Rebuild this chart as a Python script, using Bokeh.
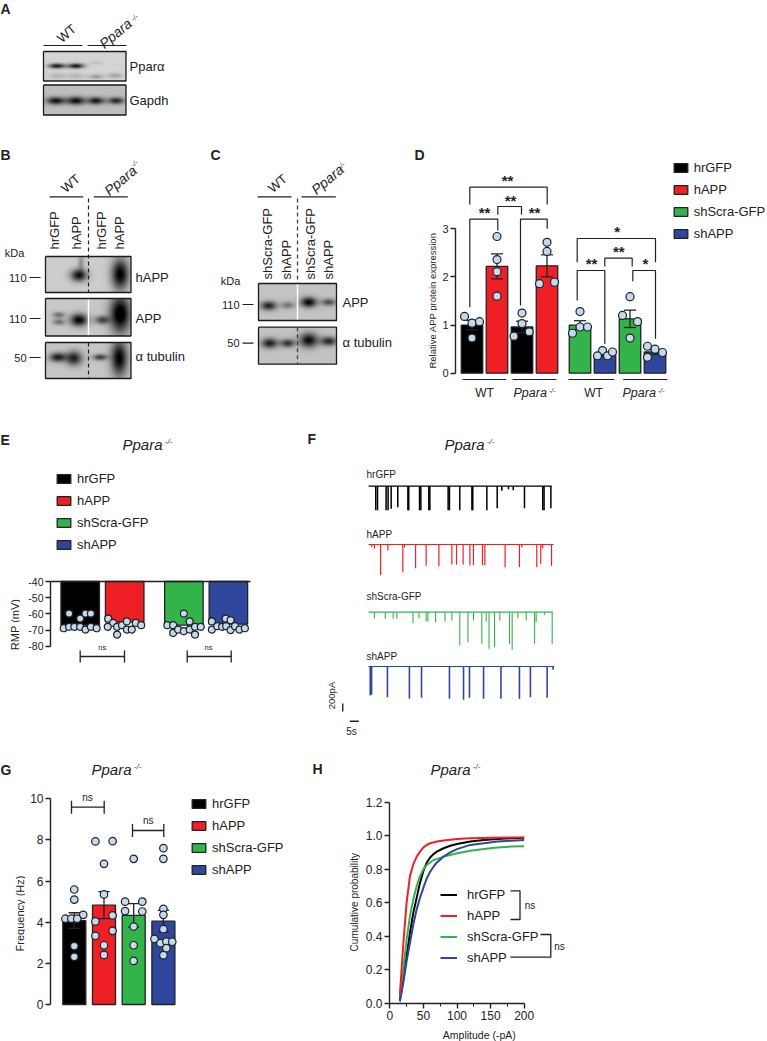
import numpy as np
from bokeh.plotting import figure
from bokeh.embed import file_html
from bokeh.resources import INLINE
from bokeh.layouts import column, row
from bokeh.models import (Label, Range1d, LinearAxis, FixedTicker, Legend, LegendItem,
                          LinearColorMapper)

FONT = "Liberation Sans"
INK = "#222222"
COLORS = ["#000000", "#ee2025", "#33b44a", "#2e479c"]
NAMES = ["hrGFP", "hAPP", "shScra-GFP", "shAPP"]
DOT = "#c2d9ee"

# ---------- panel D values
d_pos = [1, 2, 3, 4, 5.32, 6.32, 7.32, 8.32]
d_vals = [1.0, 2.22, 0.96, 2.23, 1.0, 0.38, 1.13, 0.44]
d_err = [0.1, 0.26, 0.12, 0.23, 0.09, 0.03, 0.18, 0.05]
d_color = [0, 1, 0, 1, 2, 3, 2, 3]
d_pts_y = [[1.18, 1.04, 1.07, 0.73], [2.84, 2.36, 2.11, 1.60], [1.25, 1.03, 0.77, 0.86], [2.72, 2.53, 1.86, 1.89],
           [1.28, 0.96, 0.83, 0.96], [0.47, 0.36, 0.36, 0.44], [1.59, 1.20, 1.07, 0.73], [0.56, 0.50, 0.43, 0.33]]
d_pts_dx = [[-0.3, 0, 0.3, 0], [0, 0, 0, 0], [0, 0, -0.32, 0.29], [0, 0, -0.3, 0.3],
            [0, 0, -0.3, 0.3], [-0.1, -0.3, 0.1, 0.3], [0, -0.3, 0.3, 0], [-0.3, 0, 0.3, -0.3]]

# ---------- panel E values
e_pos = [1, 2, 3.33, 4.33]
e_vals = [-67, -65, -67, -66.4]
e_pts_y = [[-59.8, -59.8, -59.8, -62.9, -68.9, -68, -68, -68, -69.7, -68, -68.9],
           [-63, -65.6, -68, -68, -72.8, -67, -64.7, -69.7, -69.7, -65.6, -67],
           [-59.8, -64.7, -67, -67, -71.8, -69.7, -70.7, -69.7, -68, -72.8, -68],
           [-64.7, -69.7, -67.6, -68, -62.9, -63.9, -67.6, -70, -67.6, -69.7, -68.9]]
e_pts_dx = [[-0.25, 0.12, 0.24, 0, -0.37, -0.25, -0.13, 0, 0.12, 0.24, 0.37],
            [-0.37, -0.26, -0.38, -0.17, -0.17, -0.06, 0.05, 0.05, 0.16, 0.25, 0.37],
            [0, 0.13, -0.37, -0.24, -0.24, -0.13, 0, 0.13, 0.25, 0.25, 0.38],
            [-0.37, -0.37, -0.25, -0.14, -0.06, 0.05, -0.05, 0.05, 0.15, 0.25, 0.37]]

# ---------- panel F traces: spike time (s) and amplitude (pA)
f_t = [[3.3, 4.1, 8.0, 8.9, 10.3, 13.3, 17.9, 18.3, 23.2, 23.8, 27.4, 27.9, 36.2, 36.8, 41.5, 47.0, 47.4, 53.8,
        58.5, 60.6, 63.6, 65.8, 70.9, 79.2, 79.8, 82.9],
       [1.5, 2.7, 5.5, 8.8, 15.6, 16.4, 21.4, 26.2, 32.0, 37.9, 40.0, 43.0, 46.1, 47.7, 51.8, 52.9, 62.1, 68.6, 69.7,
        76.5, 78.3, 79.2, 83.2],
       [2.7, 7.6, 11.2, 12.9, 20.2, 22.9, 26.2, 27.0, 30.5, 34.8, 37.9, 41.5, 45.2, 47.7, 51.5, 53.5, 54.8, 57.3,
        59.7, 64.1, 65.3, 67.9, 71.7, 75.5, 76.2, 80.0, 83.5],
       [0.8, 1.4, 8.6, 18.6, 24.1, 36.8, 43.2, 45.9, 52.3, 60.2, 68.6, 73.6, 81.2, 83.9]]
f_a = [[480, 480, 480, 480, 450, 420, 480, 480, 480, 480, 480, 480, 480, 480, 480, 480, 480, 480,
        440, 90, 60, 80, 440, 480, 480, 440],
       [53, 87, 613, 120, 553, 60, 473, 427, 433, 400, 407, 400, 420, 413, 413, 413, 453, 453, 60,
        453, 387, 80, 427],
       [120, 133, 133, 133, 220, 120, 187, 187, 200, 187, 167, 667, 600, 167, 633, 187, 733, 700,
        167, 633, 753, 120, 167, 633, 200, 53, 633],
       [580, 560, 613, 647, 627, 647, 667, 627, 647, 647, 647, 613, 627, 67]]
f_end = [83.3, 84.1, 83.8, 84.4]
f_base = [-1514, -2680, -4034, -5120]
f_lw = [1.5, 1.2, 1.1, 1.6]
F_SCALE_Y, F_SCALE_X = 160, 4.1

# ---------- panel G values
g_vals = [4.08, 4.83, 4.33, 4.05]
g_err = [0.38, 0.66, 0.57, 0.53]
g_pts_y = [[5.59, 5.1, 4.36, 4.17, 4.17, 4.17, 2.84, 2.32],
           [7.93, 7.94, 6.84, 5.35, 4.33, 4.04, 3.58, 3.34, 2.88, 2.41],
           [7.08, 5.0, 5.0, 4.54, 4.52, 3.79, 2.88, 2.12],
           [7.6, 7.08, 4.65, 4.36, 3.66, 3.19, 2.98, 3.06, 3.05, 2.74, 2.4]]
g_pts_dx = [[0, 0, 0.3, -0.3, -0.1, 0.1, 0, 0],
            [-0.29, 0.29, 0, 0, 0.29, -0.29, 0.29, -0.29, 0, 0],
            [0, -0.29, 0.29, -0.29, 0.29, 0, 0, 0],
            [0, 0, 0, 0, 0, -0.3, -0.1, 0.1, 0.3, 0.1, 0]]

# ---------- panel H values
h_x = [[15, 20, 25, 30, 35, 40, 45, 50, 55, 60, 65, 70, 80, 90, 100, 120, 140, 160, 180, 200],
       [15, 20, 25, 30, 35, 40, 45, 50, 55, 60, 70, 80, 100, 120, 150, 200],
       [15, 20, 25, 30, 35, 40, 45, 50, 55, 60, 65, 70, 80, 90, 100, 120, 140, 160, 180, 200],
       [15, 20, 25, 30, 35, 40, 45, 50, 55, 60, 65, 70, 80, 90, 100, 120, 140, 160, 180, 200]]
h_y = [[.02, .14, .28, .42, .54, .63, .72, .79, .84, .87, .89, .905, .925, .94, .95, .965, .975, .98, .985, .988],
       [.05, .35, .6, .76, .83, .875, .905, .93, .945, .955, .965, .972, .98, .985, .988, .99],
       [.04, .2, .38, .52, .62, .7, .76, .8, .825, .84, .855, .86, .875, .885, .895, .91, .92, .93, .935, .937],
       [.01, .12, .25, .36, .47, .56, .63, .69, .745, .785, .815, .84, .875, .9, .92, .945, .955, .965, .97, .975]]

MAPS = {}


def panel(L, R, T, B, fL, fR, fT, fB, xa, ya):
    X = lambda px: xa[0] + (px - xa[1]) * (xa[2] - xa[0]) / (xa[3] - xa[1])
    Y = lambda py: ya[0] + (py - ya[1]) * (ya[2] - ya[0]) / (ya[3] - ya[1])
    p = figure(width=R - L, height=B - T, output_backend="svg", toolbar_location=None,
               x_range=Range1d(X(fL), X(fR)), y_range=Range1d(Y(fB), Y(fT)),
               x_axis_location=None, y_axis_location=None,
               min_border_left=fL - L, min_border_right=R - fR, min_border_top=fT - T, min_border_bottom=B - fB)
    p.grid.visible = False
    p.outline_line_color = None
    MAPS[p.id] = (X, Y)
    return p


def strip(L, R, T, B):
    "A text-only area in the page's own pixels, for what lies outside a panel's frame."
    return panel(L, R, T, B, L, R, T, B, (0, 0, 1, 1), (0, 0, 1, -1))


def txt(p, px, py, s, size=11, italic=False, bold=False, align="left", base="middle", angle=0, color=INK):
    X, Y = MAPS[p.id]
    p.add_layout(Label(x=X(px), y=Y(py), text=s, text_font=FONT, text_font_size=f"{size}px",
                       text_font_style="bold" if bold else ("italic" if italic else "normal"),
                       text_align=align, text_baseline=base, angle=angle, angle_units="deg", text_color=color))


def pline(p, xs, ys, color=INK, width=1.2, dash="solid"):
    X, Y = MAPS[p.id]
    p.line([X(a) for a in xs], [Y(b) for b in ys], line_color=color, line_width=width, line_dash=dash)


def ppara(p, px, py, size=15):
    txt(p, px, py, "Ppara", size, italic=True)
    txt(p, px + 2.75 * size + 1, py - 3, "-/-", 8, italic=True)


def yaxis(p, ticks, bounds, tick_size):
    ax = LinearAxis(ticker=FixedTicker(ticks=ticks), bounds=bounds,
                    axis_line_color=INK, axis_line_width=1.4, major_tick_line_color=INK, major_tick_line_width=1.4,
                    major_tick_out=5, major_tick_in=0, minor_tick_out=0, minor_tick_in=0,
                    major_label_text_font=FONT, major_label_text_font_size=f"{tick_size}px",
                    major_label_text_color=INK, major_label_standoff=2)
    p.add_layout(ax, "left")
    return ax


def bars(p, pos, vals, color_idx, width, bottom=0.0):
    rs = []
    for c in range(4):
        idx = [i for i, k in enumerate(color_idx) if k == c]
        rs.append(p.vbar(x=[pos[i] for i in idx], top=[vals[i] for i in idx], bottom=bottom, width=width,
                         fill_color=COLORS[c], line_color=INK, line_width=1.3))
    return rs


def legend(p, rs, x, y, row_h, gw=17, gh=11, size=13, standoff=5):
    lg = Legend(items=[LegendItem(label=n, renderers=[r]) for n, r in zip(NAMES, rs)], location=(x, y),
                orientation="vertical", glyph_width=gw, glyph_height=gh, label_standoff=standoff,
                label_text_font=FONT, label_text_font_size=f"{size}px", label_text_color=INK,
                label_height=gh, spacing=int(row_h - 15), padding=0, margin=0,
                background_fill_alpha=0, border_line_color=None)
    p.add_layout(lg, "center")


def dots(p, pos, ys, dxs, scale, size):
    xs, yy = [], []
    for b, (yl, dl) in enumerate(zip(ys, dxs)):
        xs += [pos[b] + d * scale for d in dl]
        yy += yl
    p.scatter(xs, yy, size=size, fill_color=DOT, line_color=INK, line_width=1.2)


def errs(p, pos, vals, err, cap, width=1.4):
    lo = [v - e for v, e in zip(vals, err)]
    hi = [v + e for v, e in zip(vals, err)]
    p.segment(pos, lo, pos, hi, line_color=INK, line_width=width)
    p.segment([x - cap for x in pos], hi, [x + cap for x in pos], hi, line_color=INK, line_width=width)
    p.segment([x - cap for x in pos], lo, [x + cap for x in pos], lo, line_color=INK, line_width=width)


# ================= blots A, B, C
def blot(p, x0, x1, y0, y1, bg, bands, white=None):
    X, Y = MAPS[p.id]
    W, H = int((x1 - x0) * 2), int((y1 - y0) * 2)
    xx, yy = np.meshgrid(x0 + (np.arange(W) + .5) / 2, y0 + (np.arange(H) + .5) / 2)
    a = np.full((H, W), float(bg))
    for cx, cy, sx, sy, d in bands:
        a -= d * np.exp(-((xx - cx) / sx) ** 2 - ((yy - cy) / sy) ** 2)
    a = np.clip(a, 0, 255)[::-1]
    p.image(image=[a], x=[X(x0)], y=[Y(y1)], dw=[x1 - x0], dh=[y1 - y0],
            color_mapper=LinearColorMapper(palette=[f"#{i:02x}{i:02x}{i:02x}" for i in range(256)], low=0, high=255))
    if white is not None:
        pline(p, [white, white], [y0, y1], "#ffffff", 1.5)
    pline(p, [x0, x1, x1, x0, x0], [y0, y0, y1, y1, y0], "#1a1a1a", 1.3)


bl = strip(0, 410, 0, 410)
txt(bl, 0, 8, "A", 14, bold=True)
txt(bl, 0, 154, "B", 14, bold=True)
txt(bl, 210, 154, "C", 14, bold=True)

# A
for xs in ([43, 82], [87, 126]):
    pline(bl, xs, [45, 45], INK, 1.2)
txt(bl, 66, 33, "WT", 13, align="center", angle=40)
txt(bl, 115, 33, "Ppara", 14, italic=True, align="center", angle=40)
txt(bl, 134, 17, "-/-", 7, italic=True, align="center", angle=40)
blot(bl, 43, 125.5, 51, 80.5, 212, [(56, 66, 8, 2.4, 190), (75, 66, 8, 2.4, 190), (95, 63, 6, 1.5, 25), (56, 76, 9, 3, 30),
                                   (75, 76, 9, 3, 30), (95, 76.5, 7, 2.2, 60), (114, 75.5, 7, 2.5, 50)])
blot(bl, 43, 125.5, 84.5, 114.5, 190, [(55, 100.5, 9, 3.8, 170), (75, 100.5, 9, 4, 175), (95, 100.5, 8, 3.6, 165), (115, 100.5, 8, 3.4, 150)])
txt(bl, 129, 66, "Pparα", 13)
txt(bl, 129, 100, "Gapdh", 13)

# B
for xs in ([49, 82.7], [93.3, 127.3]):
    pline(bl, xs, [196.3, 196.3], INK, 1.2)
txt(bl, 70, 183, "WT", 13, align="center", angle=40)
txt(bl, 120, 180, "Ppara", 14, italic=True, align="center", angle=40)
txt(bl, 134, 163, "-/-", 7, italic=True, align="center", angle=40)
for x, n in zip([54, 76, 100.7, 119], ["hrGFP", "hAPP", "hrGFP", "hAPP"]):
    txt(bl, x, 249, n, 13, angle=90)
blot(bl, 45, 130.5, 256, 292, 205, [(78, 275, 8, 6, 190), (80, 262, 3, 8, 60), (119, 274, 8.5, 15, 210)])
blot(bl, 45, 130.5, 298, 335.5, 200, [(58, 315, 6, 3, 90), (58, 322, 6, 3, 90), (78, 320, 8.5, 6, 200), (101, 320, 7, 4, 130),
                                      (119, 314, 10, 18, 225)], white=88)
blot(bl, 45, 130.5, 342, 378, 198, [(57, 357, 8, 4.5, 170), (73, 358, 8, 7, 165), (99, 357, 7, 3, 140), (118, 358, 8, 17, 200)])
pline(bl, [88, 88], [198, 292], "#222222", 1.2, "4 3")
pline(bl, [88, 88], [342, 378], "#222222", 1.2, "4 3")
txt(bl, 14, 252, "kDa", 11, align="center")
for y, t in zip([277, 318, 357], ["110", "110", "50"]):
    txt(bl, 26, y, t, 11, align="right")
    pline(bl, [29, 40], [y, y], INK, 1.2)
for y, t in zip([277, 318, 356], ["hAPP", "APP", "α tubulin"]):
    txt(bl, 135, y, t, 13)

# C
for xs in ([257, 291], [301, 335.3]):
    pline(bl, xs, [196.3, 196.3], INK, 1.2)
txt(bl, 277, 183, "WT", 13, align="center", angle=40)
txt(bl, 327, 179, "Ppara", 14, italic=True, align="center", angle=40)
txt(bl, 341, 165, "-/-", 7, italic=True, align="center", angle=40)
for x, n in zip([267, 286, 309.7, 328], ["shScra-GFP", "shAPP", "shScra-GFP", "shAPP"]):
    txt(bl, x, 279, n, 13, angle=90)
blot(bl, 258, 336, 283, 320, 195, [(268, 305.5, 8, 4.5, 160), (287, 305, 6.5, 3.5, 80), (308, 302, 8, 5, 190), (328, 302, 7, 3.5, 120)], white=297)
blot(bl, 258, 336, 326.7, 363.7, 195, [(269, 343, 8, 5, 165), (287, 343, 7, 4, 145), (308, 340, 9, 7, 185), (328, 341, 8, 4.5, 155)])
pline(bl, [297, 297], [198, 283], "#444444", 1.3, "4 3")
pline(bl, [297, 297], [326.7, 363.7], "#444444", 1.3, "4 3")
txt(bl, 230, 280, "kDa", 11, align="center")
for y, t in zip([304, 342.7], ["110", "50"]):
    txt(bl, 239, y, t, 11, align="right")
    pline(bl, [242, 253], [y, y], INK, 1.2)
for y, t in zip([302, 342], ["APP", "α tubulin"]):
    txt(bl, 342, y, t, 13)

# ================= D
sD = strip(410, 437, 0, 410)
txt(sD, 414, 154, "D", 14, bold=True)
txt(sD, 432, 300, "Relative APP protein expression", 9.5, align="center", angle=90)
pD = panel(437, 767, 0, 410, 455, 767, 0, 410, (1, 471.5, 2, 496.5), (0, 372.7, 3, 228.3))
yaxis(pD, [0, 1, 2, 3], (0, 3), 11)
rD = bars(pD, d_pos, d_vals, d_color, 0.86)
errs(pD, d_pos, d_vals, d_err, 0.24, 1.3)
dots(pD, d_pos, d_pts_y, d_pts_dx, 1, 8)
for xs, ys in [([469.3, 469.3, 546.7, 546.7], [204, 186.7, 186.7, 204]),
               ([497.3, 497.3, 521, 521], [214.3, 206, 206, 214.3]),
               ([469.3, 469.3, 497.3, 497.3], [306.7, 218.7, 218.7, 230]),
               ([520, 520, 546.7, 546.7], [305, 218.7, 218.7, 228.3]),
               ([576.7, 576.7, 655, 655], [261.7, 238, 238, 261.7]),
               ([604.3, 604.3, 631.7, 631.7], [266, 257.7, 257.7, 266]),
               ([576.7, 576.7, 604.3, 604.3], [300, 270, 270, 343.3]),
               ([632.3, 632.3, 655, 655], [280.7, 270, 270, 338.3])]:
    pline(pD, xs, ys, INK, 1.2)
for x, y, s in [(507, 177.7, "**"), (510, 197.7, "**"), (484, 210, "**"), (534, 210, "**"),
                (616.7, 229.3, "*"), (618.3, 249.3, "**"), (591, 261.3, "**"), (645, 261.3, "*")]:
    txt(pD, x, y + 2, s, 15, bold=True, align="center")
for xs, tx, t in [([462, 505.7], 484, "WT"), ([512, 556], 530, None), ([568, 613.7], 593, "WT"), ([622.7, 666.7], 639, None)]:
    pline(pD, xs, [379, 379], INK, 1.2)
    if t:
        txt(pD, tx, 392, t, 12, align="center")
    else:
        txt(pD, tx - 17, 392, "Ppara", 12.5, italic=True)
        txt(pD, tx + 18.5, 390, "-/-", 7, italic=True)
legend(pD, rD, 671.7 - 455, 410 - 241, 22)

# ================= E
sE = strip(0, 20, 410, 740)
txt(sE, 0, 439, "E", 14, bold=True)
txt(sE, 14, 624, "RMP (mV)", 11, align="center", angle=90)
pE = panel(20, 300, 410, 740, 50, 300, 410, 740, (1, 79.7, 2, 124.2), (-40, 581, -80, 645.7))
ax = yaxis(pE, [-40, -50, -60, -70, -80], (-80, -40), 10.5)
ax.major_label_overrides = {-40: "-40", -50: "-50", -60: "-60", -70: "-70", -80: "-80"}
rE = bars(pE, e_pos, e_vals, [0, 1, 2, 3], 0.865, bottom=-40)
pE.segment([0], [-40], [4.83], [-40], line_color=INK, line_width=1.4)
dots(pE, e_pos, e_pts_y, e_pts_dx, 1, 7)
for xs, nx in [([79.7, 124], 101.7), ([186.7, 230.7], 208)]:
    yy = 656
    pline(pE, xs, [yy, yy], INK, 1.3)
    pline(pE, [xs[0], xs[0]], [yy - 6, yy + 6], INK, 1.3)
    pline(pE, [xs[1], xs[1]], [yy - 6, yy + 6], INK, 1.3)
    txt(pE, nx, 647, "ns", 7.5, align="center")
ppara(pE, 122, 443.5)
legend(pE, rE, 55 - 50, 740 - 552, 22)

# ================= F
pF = panel(300, 767, 410, 740, 300, 767, 410, 740, (0, 368, 1, 370.2), (0, 410, -1000, 460))
for i in range(4):
    base = f_base[i]
    pF.line([0, f_end[i]], [base, base], line_color=COLORS[i], line_width=1.2)
    pF.segment(f_t[i], [base] * len(f_t[i]), f_t[i], [base - a for a in f_a[i]], line_color=COLORS[i], line_width=f_lw[i])
for y, n in zip([474, 534, 596, 655.7], NAMES):
    txt(pF, 366, y, n, 10)
pF.segment([-11.7], [-5860], [-11.7], [-5860 - F_SCALE_Y], line_color=INK, line_width=1.4)
pF.segment([-8.5], [-6214], [-8.5 + F_SCALE_X], [-6214], line_color=INK, line_width=1.4)
txt(pF, 331, 695, "200pA", 9.5, align="center", angle=90)
txt(pF, 351, 731, "5s", 10, align="center")
txt(pF, 307, 438, "F", 14, bold=True)
ppara(pF, 444, 443.5)

# ================= G
sG = strip(0, 25, 740, 1041)
txt(sG, 0, 769, "G", 14, bold=True)
txt(sG, 19, 913, "Frequency (Hz)", 11, align="center", angle=90)
pG = panel(25, 300, 740, 1041, 50, 300, 740, 1041, (1, 73.8, 2, 103.5), (0, 1004, 10, 798.3))
yaxis(pG, [0, 2, 4, 6, 8, 10], (0, 10), 12)
g_pos = [1, 2, 3, 4]
rG = bars(pG, g_pos, g_vals, [0, 1, 2, 3], 0.775)
errs(pG, g_pos, g_vals, g_err, 0.19, 1.3)
dots(pG, g_pos, g_pts_y, g_pts_dx, 1, 7.5)
for xs, yy, nx, ny in [([71, 103.7], 806.7, 87, 797.3), ([132, 163.3], 830, 147.7, 820.3)]:
    pline(pG, xs, [yy, yy], INK, 1.3)
    pline(pG, [xs[0], xs[0]], [yy - 6.5, yy + 6.5], INK, 1.3)
    pline(pG, [xs[1], xs[1]], [yy - 6.5, yy + 6.5], INK, 1.3)
    txt(pG, nx, ny, "ns", 10, align="center")
ppara(pG, 91, 768.5)
legend(pG, rG, 190 - 50, 1041 - 877, 22)

# ================= H
sH = strip(300, 360, 740, 1041)
txt(sH, 312, 768, "H", 14, bold=True)
txt(sH, 354, 901.7, "Cumulative probability", 10, align="center", angle=90)
sH2 = strip(360, 767, 1027, 1041)
txt(sH2, 456.7, 1034, "Amplitude (-pA)", 10.5, align="center")
pH = panel(360, 767, 740, 1027, 389, 767, 740, 1003, (0, 389.3, 200, 523.7), (0, 1002.7, 1.2, 801.7))
ay = yaxis(pH, [0, .2, .4, .6, .8, 1.0, 1.2], (0, 1.2), 12)
ay.major_label_overrides = {0: "0.0", .2: "0.2", .4: "0.4", .6: "0.6", .8: "0.8", 1.0: "1.0", 1.2: "1.2"}
xax = LinearAxis(ticker=FixedTicker(ticks=[0, 50, 100, 150, 200], minor_ticks=[25, 75, 125, 175]), bounds=(0, 200),
                 axis_line_color=INK, axis_line_width=1.4, major_tick_line_color=INK,
                 major_tick_line_width=1.4, major_tick_out=5, major_tick_in=0, minor_tick_line_color=INK,
                 minor_tick_out=3, minor_tick_in=0, major_label_text_font=FONT, major_label_text_font_size="12px",
                 major_label_text_color=INK, major_label_standoff=2)
pH.add_layout(xax, "below")
rH = [pH.line(h_x[i], h_y[i], line_color=COLORS[i], line_width=2) for i in [0, 2, 3, 1]]
rH = [rH[0], rH[3], rH[1], rH[2]]
legend(pH, rH, 440 - 389, 1003 - 965, 21.3, gw=17, gh=11, size=13, standoff=10)
pline(pH, [510, 519.5, 519.5, 510], [890.3, 890.3, 919, 919], INK, 1.3)
pline(pH, [540, 550.3, 550.3, 510], [934, 934, 956.7, 956.7], INK, 1.3)
txt(pH, 529.5, 905, "ns", 10, align="center")
txt(pH, 559, 945.7, "ns", 10, align="center")
ppara(pH, 430, 768.5)

page = column(row(bl, sD, pD, spacing=0),
              row(sE, pE, pF, spacing=0),
              row(sG, pG, sH, column(pH, sH2, spacing=0), spacing=0),
              spacing=0, margin=0)
open("out.html", "w").write(file_html(page, INLINE))
